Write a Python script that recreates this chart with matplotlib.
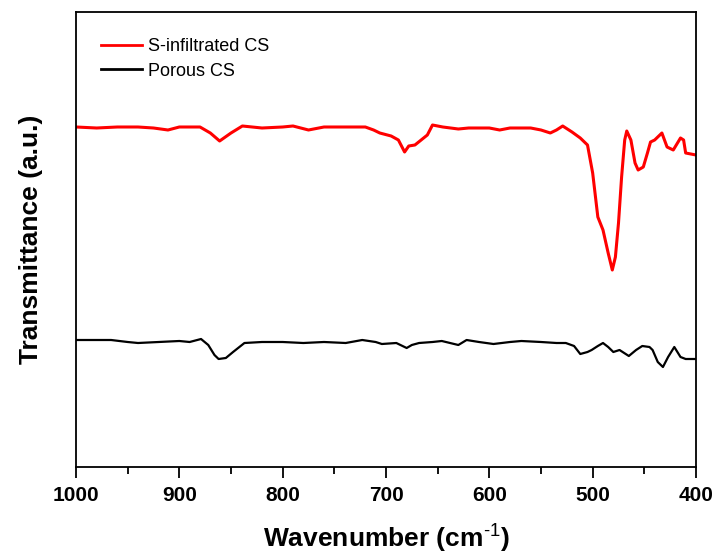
import matplotlib
matplotlib.use("Agg")
import matplotlib.pyplot as plt
from matplotlib.ticker import MultipleLocator

plt.rcParams['font.family'] = ['Liberation Sans', 'DejaVu Sans']
plt.rcParams['mathtext.fontset'] = 'custom'
plt.rcParams['mathtext.rm'] = 'Liberation Sans'
plt.rcParams['mathtext.bf'] = 'Liberation Sans:bold'

# S-infiltrated CS (wavenumber, transmittance a.u.)
red_wn = [1000, 980, 960, 940, 925, 911, 900, 880, 870, 861, 850, 839, 820, 800, 790, 775,
          760, 740, 720, 712, 706, 695, 688, 682, 678, 672, 666, 660, 655, 645, 630, 620,
          600, 590, 580, 570, 560, 550, 541, 535, 529, 520, 512, 505, 500, 495, 490, 485,
          481, 478, 475, 472, 469, 467, 463, 459, 456, 451, 447, 444, 440, 433, 428, 422,
          415, 412, 410, 400]
red_t = [340, 339, 340, 340, 339, 337, 340, 340, 334, 326, 334, 341, 339, 340, 341, 337,
         340, 340, 340, 337, 334, 331, 327, 315, 321, 322, 327, 332, 342, 340, 338, 339,
         339, 337, 339, 339, 339, 337, 334, 337, 341, 335, 329, 322, 294, 250, 237, 214,
         197, 210, 244, 290, 327, 336, 327, 304, 297, 300, 314, 325, 327, 334, 320, 317,
         329, 327, 314, 312]

# Porous CS
blk_wn = [1000, 966, 950, 940, 920, 900, 890, 879, 872, 866, 862, 855, 848, 837, 820, 800,
          780, 760, 739, 723, 710, 704, 690, 680, 675, 668, 655, 646, 638, 630, 622, 610,
          596, 580, 569, 550, 535, 526, 518, 512, 505, 501, 495, 490, 485, 480, 474, 465,
          458, 452, 445, 442, 437, 432, 427, 421, 418, 415, 410, 400]
blk_t = [127, 127, 125, 124, 125, 126, 125, 128, 122, 112, 108, 109, 115, 124, 125, 125,
         124, 125, 124, 127, 125, 123, 124, 119, 122, 124, 125, 126, 124, 122, 127, 125,
         123, 125, 126, 125, 124, 124, 121, 113, 115, 117, 121, 124, 120, 115, 117, 111,
         117, 121, 120, 117, 105, 100, 110, 120, 115, 110, 108, 108]

x_ticks = [1000, 900, 800, 700, 600, 500, 400]
labels = ['S-infiltrated CS', 'Porous CS']

W, H = 718, 554
fig = plt.figure(figsize=(W / 100, H / 100), dpi=100)
ax = fig.add_axes([76 / W, (H - 467) / H, 620 / W, 455 / H])

ax.plot(red_wn, red_t, color='#ff0000', lw=2.2, label=labels[0])
ax.plot(blk_wn, blk_t, color='#000000', lw=1.6, label=labels[1])

ax.set_xlim(1000, 400)
ax.set_ylim(0, 455)
ax.set_xticks(x_ticks)
ax.xaxis.set_minor_locator(MultipleLocator(50))
ax.set_yticks([])
ax.tick_params(axis='x', which='major', direction='out', length=8, width=1.3,
               labelsize=15, pad=6)
ax.tick_params(axis='x', which='minor', direction='out', length=5, width=1.3)
for lab in ax.get_xticklabels():
    lab.set_fontweight('bold')
for sp in ax.spines.values():
    sp.set_linewidth(1.3)

ax.set_xlabel(r'Wavenumber (cm$^{\text{-1}}$)', fontsize=19, fontweight='bold', labelpad=11)
ax.set_ylabel('Transmittance (a.u.)', fontsize=19, fontweight='bold', labelpad=24)

leg = ax.legend(loc='upper left', bbox_to_anchor=(0.04, 0.942), frameon=False,
                fontsize=13, handlelength=2.3, handletextpad=0.3, labelspacing=0.4,
                borderpad=0, borderaxespad=0)
for l in leg.get_lines():
    l.set_linewidth(2.0)

fig.savefig('out.png', dpi=100)
